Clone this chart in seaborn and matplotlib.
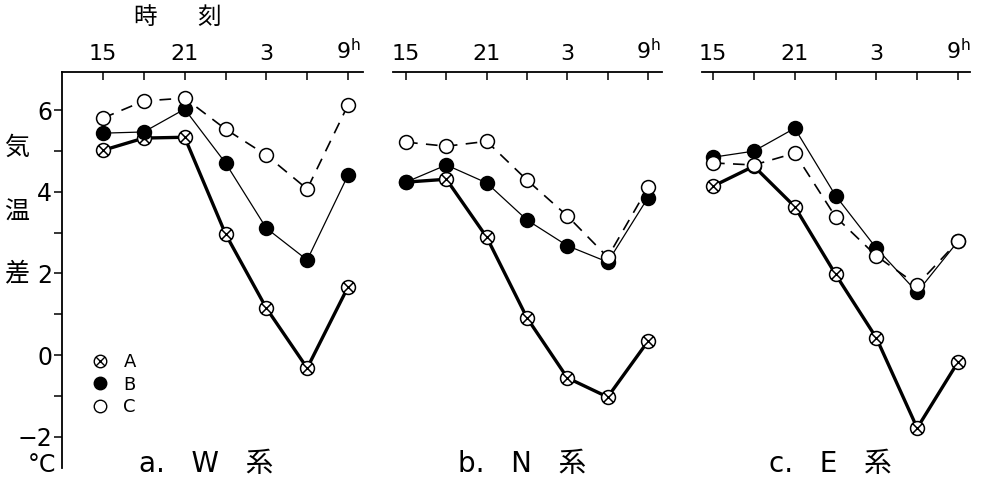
import matplotlib
matplotlib.use("Agg")
import matplotlib.pyplot as plt
from matplotlib.path import Path
from matplotlib.lines import Line2D
from matplotlib.ticker import MultipleLocator, FixedLocator
import numpy as np
import pandas as pd
import seaborn as sns

# observation times (hour of day), 3-hourly from 15h to 9h next morning
hours = [15, 18, 21, 24, 3, 6, 9]
tick_hours = [15, 21, 3, 9]
tick_text = ["15", "21", "3", r"$\mathregular{9^h}$"]

# temperature difference (deg C) for stations A, B, C in each system
w_a = [5.02, 5.32, 5.34, 2.97, 1.15, -0.32, 1.67]
w_b = [5.44, 5.47, 6.03, 4.71, 3.11, 2.33, 4.41]
w_c = [5.81, 6.23, 6.30, 5.54, 4.90, 4.07, 6.13]

n_a = [4.24, 4.31, 2.89, 0.91, -0.56, -1.03, 0.34]
n_b = [4.24, 4.66, 4.22, 3.31, 2.68, 2.28, 3.86]
n_c = [5.22, 5.12, 5.24, 4.29, 3.41, 2.40, 4.11]

e_a = [4.14, 4.63, 3.64, 1.98, 0.42, -1.79, -0.17]
e_b = [4.85, 5.00, 5.56, 3.91, 2.62, 1.54, 2.79]
e_c = [4.71, 4.66, 4.95, 3.39, 2.43, 1.72, 2.79]

panels = ["a.   W   系", "b.   N   系", "c.   E   系"]


def elapsed(h):
    return (h - 15) % 24


x = [elapsed(h) for h in hours]

sns.set_theme(style="white")
plt.rcParams["font.family"] = ["DejaVu Sans", "Noto Sans CJK JP"]
plt.rcParams["axes.unicode_minus"] = True
plt.rcParams["text.color"] = "black"

# circle with a diagonal cross for station A
s = np.sqrt(0.5)
circ = Path.unit_circle()
cross = Path([(-s, -s), (s, s), (-s, s), (s, -s)],
             [Path.MOVETO, Path.LINETO, Path.MOVETO, Path.LINETO])
otimes = Path.make_compound_path(circ, cross)

styles = {
    "A": dict(lw=2.4, ls="-", marker=otimes, ms=10, mfc="white", zorder=3),
    "B": dict(lw=0.9, ls="-", marker="o", ms=10, mfc="black", zorder=4),
    "C": dict(lw=1.2, ls=(0, (7, 5)), marker="o", ms=10, mfc="white", zorder=5),
}

W, H = 989, 486
fig = plt.figure(figsize=(W / 100, H / 100), dpi=100)
boxes = [(62, 301, -3.01, 19.1), (393, 269, -0.97, 19.04), (702, 268, -0.81, 18.88)]
series = [(w_a, w_b, w_c), (n_a, n_b, n_c), (e_a, e_b, e_c)]

for i, ((left, width, x0, x1), vals) in enumerate(zip(boxes, series)):
    ax = fig.add_axes([left / W, 18 / H, width / W, 396 / H])
    for name, v in zip(["A", "B", "C"], vals):
        st = styles[name]
        sns.lineplot(x=x, y=v, ax=ax, color="black", linewidth=st["lw"],
                     linestyle=st["ls"], marker=st["marker"], markersize=st["ms"],
                     markerfacecolor=st["mfc"], markeredgecolor="black",
                     markeredgewidth=1.1, zorder=st["zorder"], legend=False)
    ax.set_xlim(x0, x1)
    ax.set_ylim(-2.77, 6.94)
    ax.set_xlabel("")
    ax.set_ylabel("")
    ax.set_facecolor("none")
    for sp in ["bottom", "right"]:
        ax.spines[sp].set_visible(False)
    ax.spines["top"].set_linewidth(1.3)
    ax.spines["top"].set_color("black")
    ax.xaxis.tick_top()
    ax.xaxis.set_major_locator(FixedLocator([elapsed(h) for h in tick_hours]))
    ax.xaxis.set_minor_locator(FixedLocator([elapsed(h) for h in hours]))
    ax.set_xticklabels(tick_text)
    ax.tick_params(axis="x", which="both", direction="in", length=6, width=1.1,
                   colors="black", top=True, bottom=False, labelsize=16, pad=6)
    if i == 0:
        ax.spines["left"].set_linewidth(1.3)
        ax.spines["left"].set_color("black")
        ax.yaxis.set_major_locator(MultipleLocator(2))
        ax.yaxis.set_minor_locator(MultipleLocator(1))
        ax.tick_params(axis="y", which="both", direction="out", length=6, width=1.1,
                       colors="black", left=True, labelsize=17, pad=1)
        handles = [Line2D([], [], color="black", ls="none", marker=styles[k]["marker"],
                          ms=9, mfc=styles[k]["mfc"], mec="black", mew=1.0)
                   for k in ["A", "B", "C"]]
        ax.legend(handles, ["A", "B", "C"], loc="upper left",
                  bbox_to_anchor=(0.09, 0.29), frameon=False, fontsize=13,
                  handlelength=1.2, handletextpad=0.7, labelspacing=0.25,
                  borderpad=0, borderaxespad=0)
    else:
        ax.spines["left"].set_visible(False)
        ax.tick_params(axis="y", left=False, labelleft=False)
    ax.text(0.48, 0.01, panels[i], transform=ax.transAxes, ha="center", va="center",
            fontsize=20, color="black")

for ch, yy in zip(["気", "温", "差"], [148, 213, 273]):
    fig.text(17 / W, 1 - yy / H, ch, ha="center", va="center", fontsize=18)
fig.text(42 / W, 1 - 465 / H, "°C", ha="center", va="center", fontsize=17)
fig.text(145 / W, 1 - 17 / H, "時", ha="center", va="center", fontsize=17)
fig.text(209 / W, 1 - 17 / H, "刻", ha="center", va="center", fontsize=17)

fig.savefig("out.png", dpi=100, facecolor="white")
